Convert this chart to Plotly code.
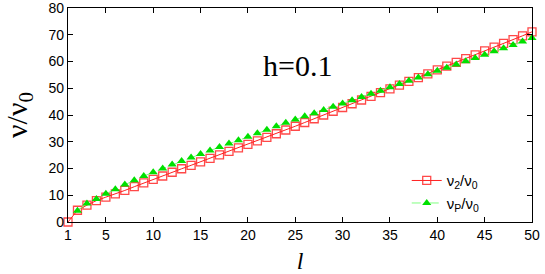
import plotly.graph_objects as go

l_red = list(range(1, 51))
v2 = [0.0, 4.4, 6.3, 8.0, 9.3, 10.5, 11.8, 13.2, 14.6, 15.9,
      17.2, 18.6, 19.9, 21.2, 22.5, 23.8, 25.1, 26.4, 27.7, 29.0,
      30.3, 31.6, 33.0, 34.4, 35.8, 37.2, 38.6, 40.0, 41.4, 42.8,
      44.2, 45.6, 47.0, 48.4, 49.8, 51.2, 52.6, 54.0, 55.4, 56.9,
      58.3, 59.7, 61.1, 62.5, 64.0, 65.4, 66.8, 68.2, 69.6, 71.1]

l_green = list(range(2, 51))
vp = [4.2, 6.9, 8.6, 10.6, 12.2, 14.0, 15.6, 17.2, 18.6,
      20.0, 21.5, 22.8, 24.1, 25.4, 26.7, 28.0, 29.3, 30.6, 31.9,
      33.2, 34.5, 35.8, 37.1, 38.3, 39.5, 40.7, 41.9, 43.1, 44.3,
      45.5, 46.7, 47.9, 49.1, 50.4, 51.6, 52.8, 54.0, 55.2, 56.5,
      57.7, 58.9, 60.1, 61.3, 62.5, 63.8, 65.0, 66.2, 67.5, 68.8]

x_ticks = [1, 5, 10, 15, 20, 25, 30, 35, 40, 45, 50]
y_ticks = [0, 10, 20, 30, 40, 50, 60, 70, 80]

fig = go.Figure()
fig.add_trace(go.Scatter(
    x=l_red, y=v2, mode="lines+markers", cliponaxis=False,
    name="ν<sub>2</sub>/ν<sub>0</sub>",
    line=dict(color="#ff2020", width=1),
    marker=dict(symbol="square-open", size=8, color="rgba(255,40,40,0.85)",
                line=dict(width=1.3)),
))
fig.add_trace(go.Scatter(
    x=l_green, y=vp, mode="lines+markers", cliponaxis=False,
    name="ν<sub>P</sub>/ν<sub>0</sub>",
    line=dict(color="#80ff80", width=1, dash="dash"),
    marker=dict(symbol="triangle-up", size=8, color="#00e000"),
))

fig.add_annotation(text="h=0.1", x=0.495, y=0.82, xref="paper", yref="paper",
                   showarrow=False,
                   font=dict(family="Liberation Serif", size=30, color="black"))

axis_common = dict(showline=True, linecolor="black", linewidth=1.2, mirror="ticks",
                   ticks="inside", ticklen=5, tickcolor="black", tickwidth=1,
                   showgrid=False, zeroline=False, automargin=False,
                   ticklabeloverflow="allow",
                   tickfont=dict(family="Liberation Sans", size=14, color="black"))

fig.update_xaxes(range=[1, 50], tickvals=x_ticks, **axis_common,
                 title=dict(text="<i>l</i>", standoff=10,
                            font=dict(family="Liberation Serif", size=24, color="black")))
fig.update_yaxes(range=[0, 80], tickvals=y_ticks, **axis_common,
                 title=dict(text="ν/ν<sub>0</sub>", standoff=14,
                            font=dict(family="Liberation Serif", size=30, color="black")))

fig.update_layout(
    width=545, height=274,
    margin=dict(l=68, r=13, t=8, b=52, autoexpand=False),
    plot_bgcolor="white", paper_bgcolor="white",
    legend=dict(x=0.73, y=0.27, xanchor="left", yanchor="top",
                bgcolor="rgba(0,0,0,0)",
                font=dict(family="Liberation Sans", size=15, color="black"),
                tracegroupgap=0, itemwidth=30),
)

fig.write_html("out.html", config={"displayModeBar": False},
               post_script="document.body.style.margin='0';document.body.style.overflow='hidden';")
